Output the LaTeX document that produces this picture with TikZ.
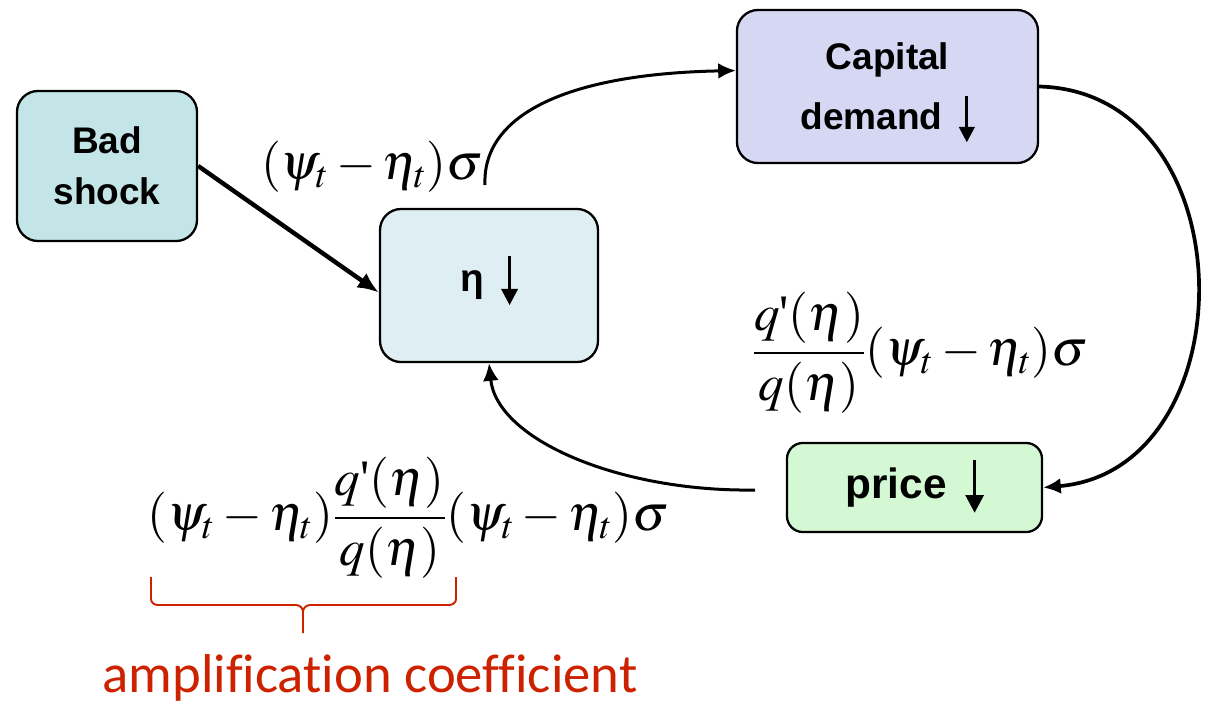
\documentclass[tikz,border=0pt]{standalone}
\usepackage{mathptmx}
\usepackage[no-math]{fontspec}
\setmainfont{Liberation Sans}
\newfontfamily\calfont[Ligatures=NoCommon]{Carlito}
\newfontfamily\serifq{Liberation Serif}
\usetikzlibrary{arrows.meta}
\definecolor{badc}{HTML}{C3E5E7}
\definecolor{capc}{HTML}{D6D7F3}
\definecolor{etac}{HTML}{DFEEF2}
\definecolor{pricec}{HTML}{D3F8D3}
\definecolor{redc}{HTML}{CC2200}
\newcommand\darr{\hspace{0.45em}\smash{\tikz[baseline=0pt]\draw[line width=0.08em,-{Triangle[length=0.42em,width=0.42em]}] (0,0.92em) -- (0,-0.34em);}}
\newcommand\qp{q\mbox{\serifq\char"0027}}
\begin{document}
\begin{tikzpicture}[x=0.567pt,y=-0.567pt,
  box/.style={draw, line width=1.3pt, rounded corners=12pt, align=center, inner sep=0pt,
    font=\bfseries\fontsize{21}{29}\selectfont},
  conn/.style={line width=1.7pt, -{Latex[length=10pt,width=9pt]}},
  mathlbl/.style={inner sep=0pt, font=\fontsize{29}{34}\selectfont},
]
\useasboundingbox (0,0) rectangle (1208,704);
\node[box, fill=badc, minimum width=102.1pt, minimum height=85.1pt] (bad) at (107,166) {Bad\\shock};
\node[box, fill=capc, minimum width=170.7pt, minimum height=86.8pt,
  font=\bfseries\fontsize{21}{34}\selectfont] (cap) at (887.5,86.5) {Capital\\demand\darr};
\node[box, fill=etac, minimum width=123.6pt, minimum height=86.8pt,
  font=\bfseries\fontsize{22}{29}\selectfont] (eta) at (489,285.5) {η\darr};
\node[box, fill=pricec, minimum width=144.6pt, minimum height=50.5pt, rounded corners=9pt,
  font=\bfseries\fontsize{24}{29}\selectfont] (price) at (914.5,487.5) {price\darr};

\node[mathlbl] (l1) at (372,167) {$(\psi_t-\eta_t)\sigma$};
\node[mathlbl] (l2) at (920,353) {$\displaystyle\frac{\qp(\eta)}{q(\eta)}(\psi_t-\eta_t)\sigma$};
\node[mathlbl] (l3) at (408,518) {$\displaystyle(\psi_t-\eta_t)\frac{\qp(\eta)}{q(\eta)}(\psi_t-\eta_t)\sigma$};

\coordinate (s1) at (485,185);
\coordinate (s2) at (755,490);

\draw[conn, line width=2.5pt, -{Latex[length=12pt,width=10pt]}] (bad.east) -- ([yshift=-4pt]eta.west);
\draw[conn] (s1) .. controls (482,118) and (560,74) .. (cap.174);
\draw[conn, line width=2.1pt] (cap.east) .. controls (1249,92) and (1249,470) .. (price.east);
\draw[conn] (s2) .. controls (620,492) and (497,440) .. (eta.south);

\draw[redc, line width=1.1pt] (151,577) -- (151,599) to[out=-90,in=180] (158,605) -- (296,605) to[out=0,in=90] (303,612) -- (303,633);
\draw[redc, line width=1.1pt] (303,612) to[out=90,in=180] (310,605) -- (449,605) to[out=0,in=-90] (456,599) -- (456,577);
\node[anchor=base, text=redc, font=\calfont\fontsize{31}{36}\selectfont, inner sep=0pt] (amp) at (370,692) {amplification coefficient};
\end{tikzpicture}
\end{document}
